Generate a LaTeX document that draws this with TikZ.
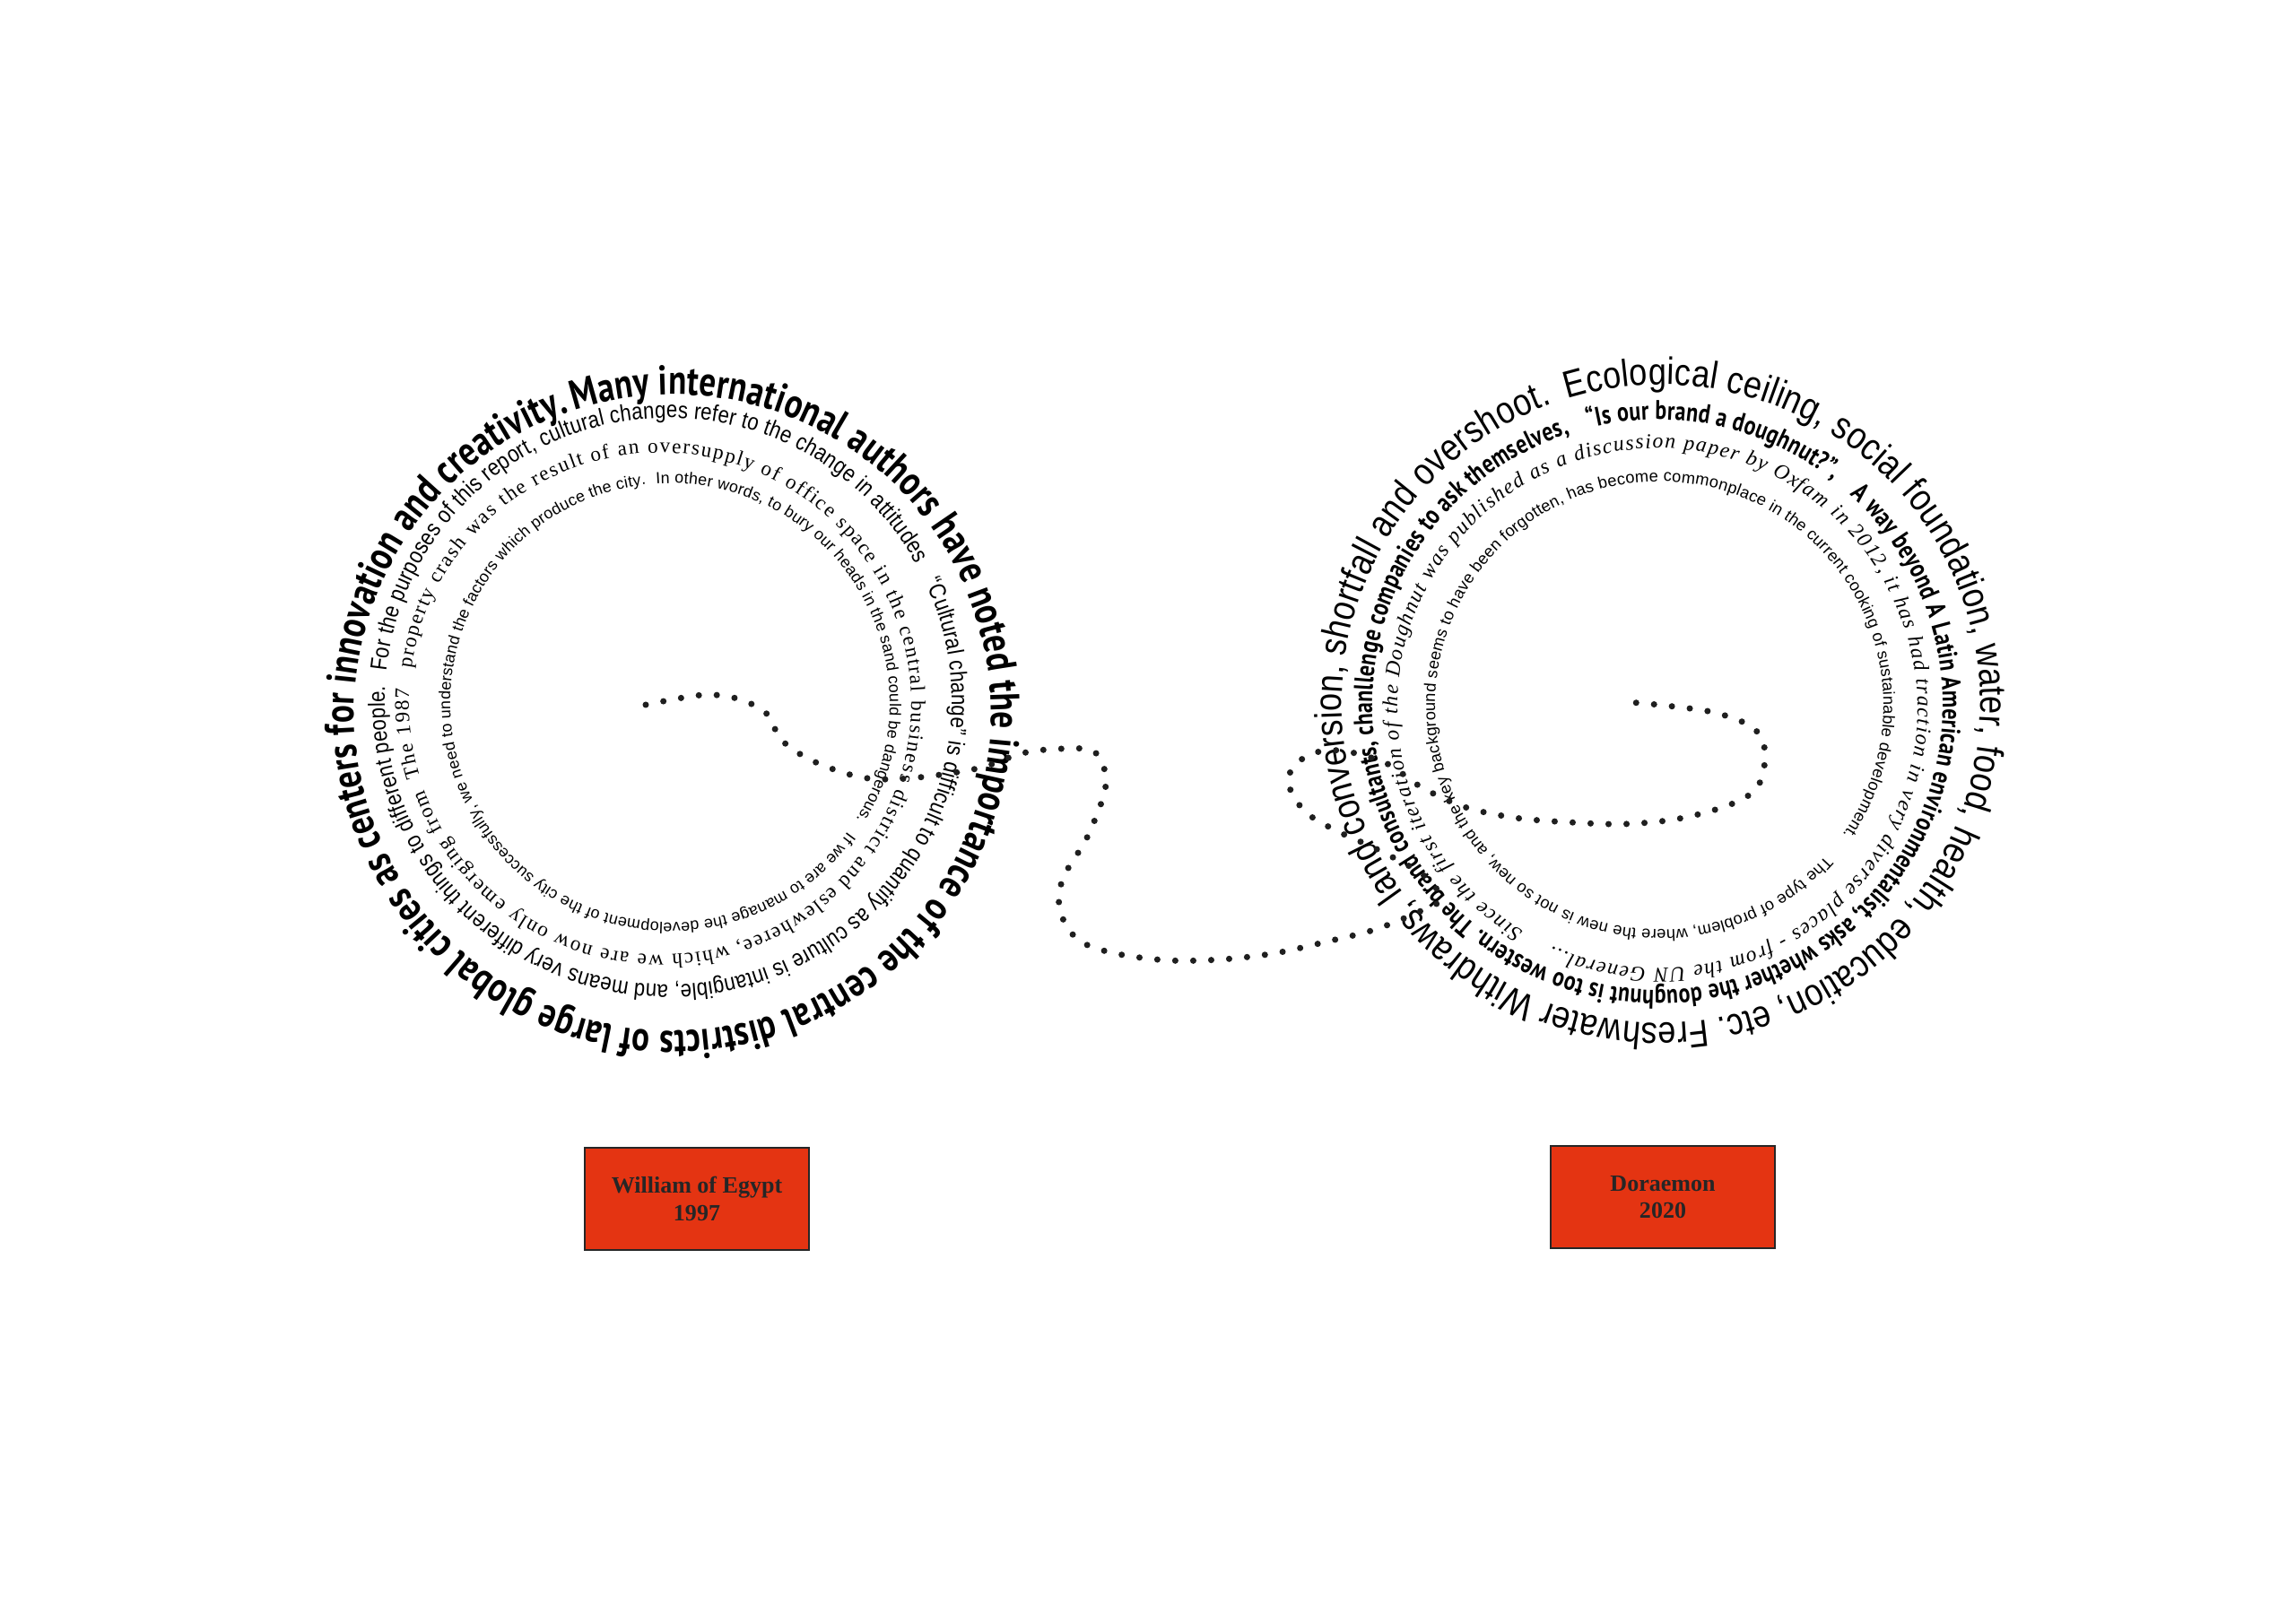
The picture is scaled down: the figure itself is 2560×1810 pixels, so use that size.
\documentclass[tikz,border=0pt]{standalone}
\usepackage{fontspec}
\usetikzlibrary{decorations.text}
\setmainfont{Liberation Serif}
\newfontfamily\fontPT[FakeStretch=0.8]{PT Sans}
\newfontfamily\fontAr{Liberation Sans}
\newfontfamily\fontArc[FakeStretch=0.85]{Liberation Sans}
\newfontfamily\fontTm{Liberation Serif}
\definecolor{boxred}{RGB}{228,52,18}
\newdimen\rtw
\newbox\rtbox
% measure: #1 id, #2 r, #3 sweep, #4 fill, #5 font, #6 text
\newcommand\RingPrep[6]{%
  \setbox\rtbox\hbox{#5\fontsize{10pt}{12pt}\selectfont #6}%
  \rtw=\wd\rtbox
  \pgfmathsetmacro\rttmp{10*#4*(#2*(#3/57.29578)*0.284528)/\the\rtw}%
  \expandafter\xdef\csname rs@#1\endcsname{\rttmp}%
  \expandafter\gdef\csname rt@#1\endcsname{#6}%
  \expandafter\gdef\csname rf@#1\endcsname{#5}%
}
% draw: #1 id, #2 cx, #3 cy, #4 r, #5 start angle, #6 clockwise sweep
\newcommand\RingFit[6]{%
  \edef\rtsize{\csname rs@#1\endcsname}%
  \expandafter\let\expandafter\rtfont\csname rf@#1\endcsname
  \expandafter\let\expandafter\rttext\csname rt@#1\endcsname
  \edef\rtdo{\noexpand\path[decorate,decoration={text along path,text align=fit to path,
     text={|\noexpand\rtfont\noexpand\fontsize{\rtsize pt}{\rtsize pt}\noexpand\selectfont|\expandafter\unexpanded\expandafter{\rttext}}}]
     ([shift={(#2,#3)}]#5:#4) arc[start angle=#5, delta angle=-#6, radius=#4];}%
  \rtdo
}
\begin{document}
\RingPrep{L1}{355}{359}{0.98}{\fontPT\bfseries}{Many international authors have noted the importance of the central districts of large global cities as centers for innovation and creativity.}%
\RingPrep{L2}{316}{357}{0.97}{\fontArc}{For the purposes of this report, cultural changes refer to the change in attitudes {\kern0.6em}“Cultural change” is difficult to quantify as culture is intangible, and means very different things to different people.}%
\RingPrep{L3}{280}{357}{0.84}{\fontTm}{The 1987 {\kern0.15em} property crash was the result of an oversupply of office space in the central business district and eslewheree, which we are now only emerging from}%
\RingPrep{L4}{245}{356}{0.97}{\fontAr}{If we are to manage the development of the city successfully, we need to understand the factors which produce the city. {\kern0.3em}In other words, to bury our heads in the sand could be dangerous.}%
\RingPrep{R1}{356}{357}{0.98}{\fontArc}{Ecological ceiling, social foundation, water, food, health, education, etc. Freshwater Withdraws, land conversion, shortfall and overshoot.}%
\RingPrep{R2}{318}{356}{0.97}{\fontPT\bfseries}{“Is our brand a doughnut?”, {\kern0.6em}A way beyond A Latin American environmentalist, asks whether the doughnut is too western. The brand consultants, chanllenge companies to ask themselves,}%
\RingPrep{R3}{290}{353}{0.86}{\fontTm\itshape}{Since the first iteration of the Doughnut was published as a discussion paper by Oxfam in 2012, it has had traction in very diverse places - from the UN General...}%
\RingPrep{R4}{250}{353}{0.97}{\fontAr}{The type of problem, where the new is not so new, and the key background seems to have been forgotten, has become commonplace in the current cooking of sustainable development.}%
\begin{tikzpicture}[x=0.01cm,y=0.01cm,
  dotline/.style={line width=2pt, dash pattern=on 0pt off 5.7pt, line cap=round, black!88},
  labelbox/.style={draw=black!85, line width=0.6pt, fill=boxred, minimum width=2.5cm,
    minimum height=1.14cm, align=center, inner sep=0pt, text=black!85,
    font=\fontTm\bfseries\fontsize{7.4}{8.6}\selectfont}]
\useasboundingbox (0,0) rectangle (2560,1810);

% ---------- left spiral ----------
\RingFit{L1}{750}{1015}{355}{108}{359}
\RingFit{L2}{745}{1028}{316}{174}{357}
\RingFit{L3}{736}{1025}{280}{197}{357}
\RingFit{L4}{747}{1026}{245}{-36}{356}

% ---------- right spiral ----------
\RingFit{R1}{1852}{1025}{356}{107}{357}
\RingFit{R2}{1848}{1024}{318}{104}{356}
\RingFit{R3}{1848}{1020}{290}{239}{353}
\RingFit{R4}{1850}{1023}{250}{-42}{353}

% ---------- dotted line ----------
\coordinate (dotS) at (720,1024);
\coordinate (dotE) at (1815,1027);
\draw[dotline] plot[smooth, tension=0.55] coordinates {(dotS) (784,1035) (825,1030) (856,1013) (871,985) (907,961) (961,943) (1014,942) (1090,953) (1140,970) (1185,975) (1221,971) (1233,935) (1213,878) (1185,830) (1182,794) (1202,762) (1242,747) (1302,739) (1362,740) (1422,747) (1480,760) (1532,773) (1577,791) (1606,807) (1587,834) (1537,862) (1487,885) (1453,907) (1436,941) (1457,967) (1494,973) (1545,959) (1585,932) (1633,910) (1689,898) (1749,893) (1811,891) (1872,897) (1930,913) (1960,933) (1968,971) (1955,998) (1913,1015) (1858,1023) (dotE)};

% ---------- labels ----------
\node[labelbox] (boxL) at (777,473) {William of Egypt\\1997};
\node[labelbox] (boxR) at (1854,475) {Doraemon\\2020};
\end{tikzpicture}
\end{document}
